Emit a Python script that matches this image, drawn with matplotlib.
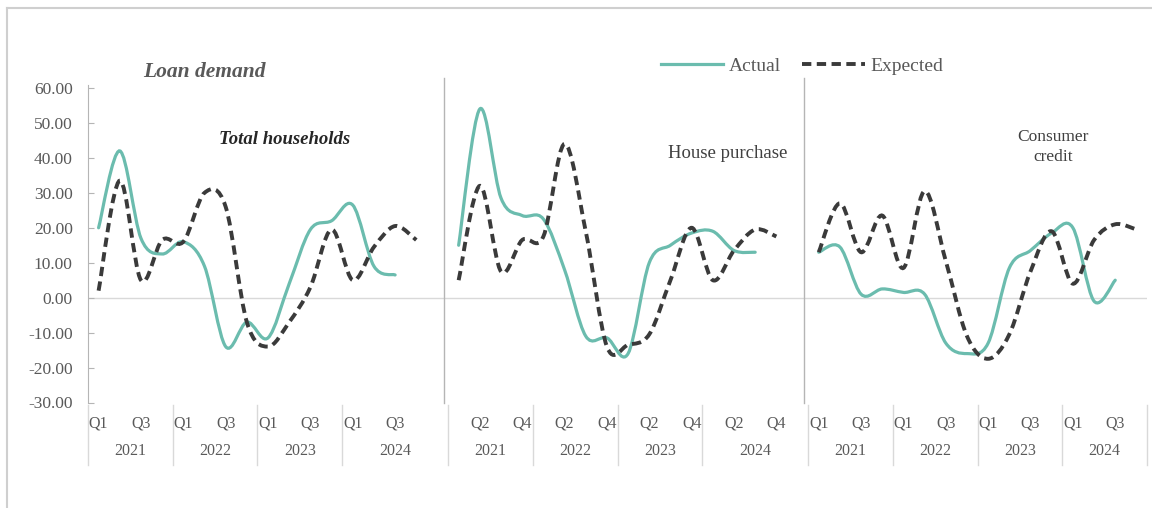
import numpy as np
import matplotlib
matplotlib.use("Agg")
import matplotlib.pyplot as plt
from matplotlib.path import Path
from matplotlib.patches import PathPatch
from matplotlib.lines import Line2D
import matplotlib.transforms as mtransforms

# data (quarters Q1 2021 .. Q4 2024)
quarters = ["Q1", "Q2", "Q3", "Q4"]
years = ["2021", "2022", "2023", "2024"]
panels = ["Total households", "House purchase", "Consumer\ncredit"]

total_actual = [20, 42, 17, 12.5, 16, 9, -14, -7, -11.5, 4, 19.5, 22, 26.5, 9, 6.5]
total_expected = [2, 33.5, 5, 16.5, 16, 30, 26, -7, -14, -7, 3, 19.5, 5, 14.5, 20.5, 16.5]

house_actual = [15, 54, 28.5, 23.5, 22.5, 8, -11, -11.5, -16, 10, 15, 18.5, 19, 13.5, 13]
house_expected = [5, 32, 7.5, 16.5, 17.5, 44, 19, -14, -13.5, -10.5, 5, 20, 5, 13.5, 19.5, 17.5]

consumer_actual = [13, 14.5, 1, 2.5, 1.5, 1, -13, -16, -13, 8.5, 13.5, 18.5, 20, -1, 5]
consumer_expected = [13, 27, 13, 23.5, 8.5, 30.5, 10.5, -11, -17.5, -10.5, 7.5, 19, 4, 16.5, 21, 19.5]

actual = [total_actual, house_actual, consumer_actual]
expected = [total_expected, house_expected, consumer_expected]

# each panel is 16 quarters + one blank slot (not after the last one)
offsets = [0, 17, 34]
ncat = 50

teal = "#6bbcae"
dark = "#3a3a3a"
grey = "#595959"
light = "#d9d9d9"

plt.rcParams['font.family'] = ['Liberation Serif', 'DejaVu Serif']

W, H = 1152, 508
fig = plt.figure(figsize=(W / 100, H / 100), dpi=100)
ax = fig.add_axes([88 / W, 1 - 402.5 / H, (1147 - 88) / W, (402.5 - 88) / H])


def smooth_path(xs, ys):
    # excel-like smoothed line: cubic bezier through every point
    pts = np.column_stack([xs, ys]).astype(float)
    n = len(pts)
    verts = [pts[0]]
    codes = [Path.MOVETO]
    for i in range(n - 1):
        p0 = pts[i - 1] if i > 0 else pts[i]
        p1 = pts[i]
        p2 = pts[i + 1]
        p3 = pts[i + 2] if i + 2 < n else pts[i + 1]
        verts += [p1 + (p2 - p0) / 6, p2 - (p3 - p1) / 6, p2]
        codes += [Path.CURVE4] * 3
    return Path(verts, codes)


ax.axhline(0, color=light, lw=1, zorder=1)

for k in range(3):
    xa = offsets[k] + np.arange(len(actual[k])) + 0.5
    xe = offsets[k] + np.arange(len(expected[k])) + 0.5
    ax.add_patch(PathPatch(smooth_path(xa, actual[k]), fill=False, edgecolor=teal,
                           lw=2.3, zorder=3, capstyle='round'))
    ax.add_patch(PathPatch(smooth_path(xe, expected[k]), fill=False, edgecolor=dark,
                           lw=2.8, ls=(0, (2.4, 1.4)), zorder=4, capstyle='butt'))

# panel dividers
for xd in [16.8, 33.8]:
    ax.plot([xd, xd], [-30, 63], color="#b5b5b5", lw=1.0, clip_on=False, zorder=2)

ax.set_xlim(0, ncat)
ax.set_ylim(-30, 60)
ax.set_yticks(np.arange(-30, 61, 10))
ax.set_yticklabels([f"{v:.2f}" for v in np.arange(-30, 61, 10)])
ax.tick_params(axis='y', direction='in', length=4, color="#b5b5b5", pad=11,
               labelsize=12.5, labelcolor=grey)
ax.set_xticks([])
for s in ["top", "right", "bottom"]:
    ax.spines[s].set_visible(False)
ax.spines["left"].set_color("#b5b5b5")
ax.spines["left"].set_bounds(-30, 61)

# multi-level category axis, drawn as text
tr = mtransforms.blended_transform_factory(ax.transData, fig.transFigure)
for k in range(3):
    off = offsets[k]
    for q in range(16):
        g = off + q
        if g % 2 == 0:
            ax.text(g + 0.5, 1 - 424 / H, quarters[q % 4], transform=tr, ha='center',
                    va='center', fontsize=11.5, color=grey)
    for y in range(4):
        start = off + 4 * y
        end = start + 4 if (y < 3 or k == 2) else start + 5
        ax.text((start + end) / 2, 1 - 451 / H, years[y], transform=tr, ha='center',
                va='center', fontsize=11.5, color=grey)
        ax.plot([start, start], [1 - 405 / H, 1 - 465 / H], transform=tr, color=light,
                lw=1, clip_on=False)
ax.plot([ncat, ncat], [1 - 405 / H, 1 - 465 / H], transform=tr, color=light, lw=1,
        clip_on=False)

# titles
fig.text(204 / W, 1 - 72 / H, "Loan demand", ha='center', va='center', fontsize=15.5,
         fontweight='bold', fontstyle='italic', color=grey)
fig.text(285 / W, 1 - 140 / H, panels[0], ha='center', va='center', fontsize=13.5,
         fontweight='bold', fontstyle='italic', color="#262626")
fig.text(728 / W, 1 - 154 / H, panels[1], ha='center', va='center', fontsize=13.5,
         color="#404040")
fig.text(1053 / W, 1 - 147 / H, panels[2], ha='center', va='center', fontsize=12.5,
         color="#404040", linespacing=1.3)

# legend
handles = [Line2D([], [], color=teal, lw=2.3),
           Line2D([], [], color=dark, lw=2.8, ls=(0, (2.4, 1.4)))]
fig.legend(handles, ["Actual", "Expected"], ncol=2, frameon=False, loc='center',
           bbox_to_anchor=(802 / W, 1 - 66 / H), fontsize=14, labelcolor=grey,
           handlelength=3.2, handletextpad=0.3, columnspacing=1.1)

# chart frame
fig.add_artist(Line2D([7 / W, 1], [1 - 8 / H, 1 - 8 / H], transform=fig.transFigure,
                      color="#cfcfcf", lw=1.5))
fig.add_artist(Line2D([7 / W, 7 / W], [1 - 8 / H, 0], transform=fig.transFigure,
                      color="#cfcfcf", lw=1.5))

fig.savefig("out.png", dpi=100, facecolor="white")
